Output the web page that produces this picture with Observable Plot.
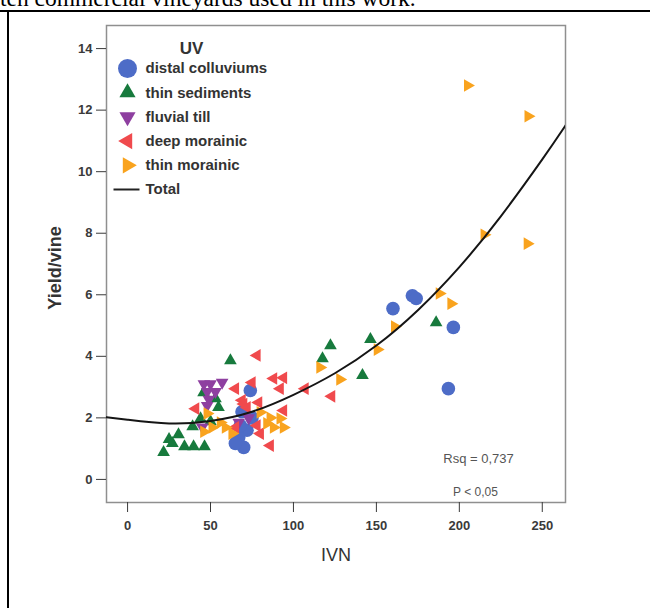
<!DOCTYPE html>
<html><head><meta charset="utf-8">
<script src="https://cdn.jsdelivr.net/npm/d3@7"></script>
<script src="https://cdn.jsdelivr.net/npm/@observablehq/plot@0.6"></script>
<style>
body{margin:0;background:#fff;width:650px;height:608px;overflow:hidden;position:relative;font-family:Arial,"Liberation Sans",sans-serif}
#chart{position:absolute;left:0;top:0}
#top{position:absolute;left:0px;top:-15px;font:23.5px "Liberation Serif","Times New Roman",serif;color:#000;white-space:nowrap;line-height:normal}
#hline{position:absolute;left:0;top:10px;width:650px;height:2px;background:#000}
#vline{position:absolute;left:7px;top:10px;width:2px;height:600px;background:#000}
</style></head><body>
<div id="chart"></div>
<div id="top">ten commercial vineyards used in this work.</div>
<div id="hline"></div><div id="vline"></div>
<script>
// ---- data ----
const seriesNames = ["distal colluviums","thin sediments","fluvial till","deep morainic","thin morainic"];
const seriesColors = ["#4d6cc7","#177a3d","#8e3fa0","#f04a4d","#f9a31e"];
const seriesSymbols = ["circle","triangle","triangle","triangle","triangle"];
const seriesRotate = [0,0,180,-90,90];

const distalX = [160,171.7,174,196.4,193.4,74,75,72,67,70,65,69,68];
const distalY = [5.55,5.97,5.88,4.94,2.95,2.89,2.0,1.6,1.36,1.04,1.17,2.2,1.75];

const sedX = [186,146.4,122.3,117.5,141.6,62,21.7,27,30.7,34.3,39.8,46.4,39.2,44,50,54.8,53,45.8,25];
const sedY = [5.1,4.55,4.35,3.93,3.38,3.86,0.88,1.17,1.46,1.07,1.07,1.07,1.72,1.98,1.88,2.34,2.63,2.82,1.3];

const fluvX = [46,50,57,48,53,49,48,45,67,73];
const fluvY = [3.1,3.1,3.15,2.85,2.85,2.6,2.4,1.7,1.85,2.0];

const deepX = [78,65,75,88,94,92,41,69,72,79,94,107,65,80,86,78,123,70];
const deepY = [4.03,2.95,3.15,3.28,3.3,2.95,2.3,2.57,2.34,2.5,2.24,2.95,1.69,1.49,1.1,1.75,2.7,2.45];

const thinX = [205,241.5,215,241,188,195,161,150.6,116,128,48,51,56,59,63,80,86,92,84,88,94,46];
const thinY = [12.8,11.8,7.95,7.66,6.04,5.71,4.97,4.22,3.64,3.25,2.14,1.69,1.85,1.69,1.49,2.18,2.0,1.98,1.82,1.69,1.69,1.55];

// fitted "Total" curve
const curveX = [-12.7,0,25,50,75,100,125,150,175,200,225,250,264];
const curveY = [2.02,1.94,1.82,1.90,2.20,2.75,3.45,4.35,5.50,6.90,8.55,10.40,11.50];

const xTicks = [0,50,100,150,200,250];
const yTicks = [0,2,4,6,8,10,12,14];
const fitTexts = ["Rsq = 0,737","P < 0,05"];

// ---- build ----
const seriesX = [distalX, sedX, fluvX, deepX, thinX];
const seriesY = [distalY, sedY, fluvY, deepY, thinY];
const curve = curveX.map((x,i)=>({x, y: curveY[i]}));

const font = "Arial, 'Liberation Sans', sans-serif";
const marks = [];
marks.push(Plot.frame({stroke:"#8f8f8f", strokeWidth:1.5}));
marks.push(Plot.axisX({ticks:xTicks, tickSize:10, tickPadding:8, fontSize:13, fontWeight:"bold", color:"#3a3a3a", label:null}));
marks.push(Plot.axisY({ticks:yTicks, tickSize:10, tickPadding:4, fontSize:13, fontWeight:"bold", color:"#3a3a3a", label:null}));

seriesNames.forEach((name,i)=>{
  const rows = seriesX[i].map((x,j)=>({x, y: seriesY[i][j]}));
  marks.push(Plot.dot(rows, {x:"x", y:"y", symbol: seriesSymbols[i], fill: seriesColors[i],
    r: i===0 ? 6.8 : 4.7, rotate: seriesRotate[i]}));
});
marks.push(Plot.line(curve, {x:"x", y:"y", curve:"natural", stroke:"#151515", strokeWidth:2, clip:true}));

// legend
marks.push(Plot.text(["UV"], {text:d=>d, frameAnchor:"top-left", dx:85, dy:23, textAnchor:"middle", lineAnchor:"middle", fontSize:17, fontWeight:"bold", fill:"#333"}));
seriesNames.forEach((name,i)=>{
  marks.push(Plot.dot([name], {frameAnchor:"top-left", dx:21, dy:43+24.2*i, symbol: seriesSymbols[i], fill: seriesColors[i],
    r: i===0 ? 9.5 : 6, rotate: seriesRotate[i]}));
  marks.push(Plot.text([name], {text:d=>d, frameAnchor:"top-left", dx:39, dy:43+24.2*i, textAnchor:"start", lineAnchor:"middle", fontSize:15, fontWeight:"bold", fill:"#333"}));
});
const lineSym = {draw(ctx){ctx.moveTo(-13,0); ctx.lineTo(13,0);}};
marks.push(Plot.dot(["Total"], {frameAnchor:"top-left", dx:20, dy:43+24.2*5, symbol: lineSym, stroke:"#222", strokeWidth:2, fill:"none"}));
marks.push(Plot.text(["Total"], {text:d=>d, frameAnchor:"top-left", dx:39, dy:43+24.2*5, textAnchor:"start", lineAnchor:"middle", fontSize:15, fontWeight:"bold", fill:"#333"}));

// fit stats
marks.push(Plot.text([fitTexts[0]], {text:d=>d, frameAnchor:"bottom-right", dx:-87, dy:-44, textAnchor:"middle", lineAnchor:"middle", fontSize:13, fill:"#555"}));
marks.push(Plot.text([fitTexts[1]], {text:d=>d, frameAnchor:"bottom-right", dx:-90, dy:-10, textAnchor:"middle", lineAnchor:"middle", fontSize:12, fill:"#555"}));

// axis titles
marks.push(Plot.text(["IVN"], {text:d=>d, frameAnchor:"bottom", dy:53, textAnchor:"middle", lineAnchor:"middle", fontSize:18, fill:"#333"}));
marks.push(Plot.text(["Yield/vine"], {text:d=>d, frameAnchor:"left", dx:-51, dy:4, rotate:-90, textAnchor:"middle", lineAnchor:"middle", fontSize:18, fontWeight:"bold", fill:"#333"}));

const chart = Plot.plot({
  width:650, height:608,
  marginLeft:106, marginRight:85, marginTop:25, marginBottom:106,
  x:{domain:[-12.7,264], ticks:xTicks},
  y:{domain:[-0.75,14.75], ticks:yTicks},
  style:{fontFamily:font, background:"white", overflow:"visible"},
  marks
});
document.getElementById("chart").appendChild(chart);
</script>
</body></html>
